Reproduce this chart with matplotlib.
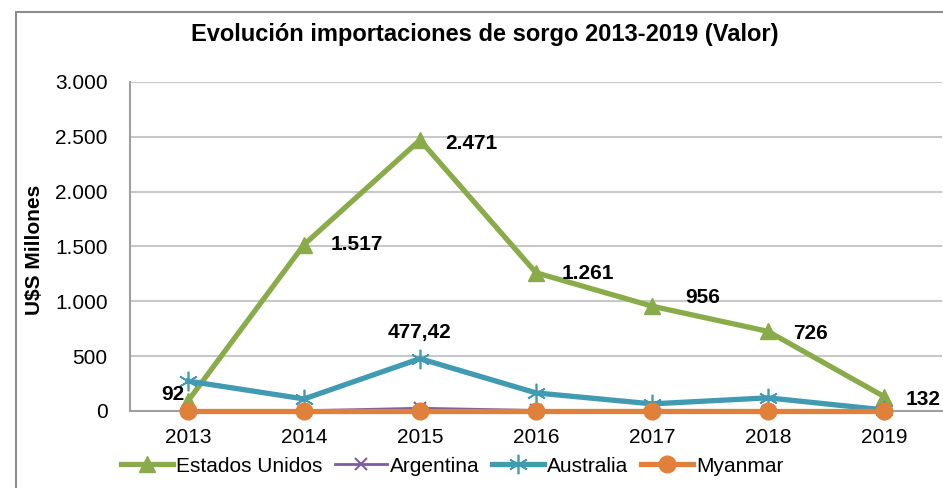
import matplotlib
matplotlib.use("Agg")
import numpy as np
from matplotlib import pyplot as plt
from matplotlib.patches import Rectangle

years = ["2013", "2014", "2015", "2016", "2017", "2018", "2019"]
estados_unidos = [92, 1517, 2471, 1261, 956, 726, 132]
argentina = [0, 2, 25, 5, 3, 4, 2]
australia = [273, 110, 477.42, 165, 65, 120, 10]
myanmar = [0, 0, 0, 0, 0, 0, 0]

eu_labels = ["92", "1.517", "2.471", "1.261", "956", "726", "132"]
au_label = "477,42"

plt.rcParams['font.family'] = ['Liberation Sans Narrow', 'Liberation Sans', 'DejaVu Sans']

fig = plt.figure(figsize=(9.43, 4.88), dpi=100)
fig.patches.append(Rectangle((16 / 943, -0.1), 1.1, (488 - 12) / 488 + 0.1,
                             transform=fig.transFigure, fill=False,
                             edgecolor='#8c8c8c', linewidth=1.5))

ax = fig.add_axes([130 / 943, (488 - 411) / 488, 812 / 943, 329 / 488])
x = np.arange(len(years))

green = '#8aab4a'
purple = '#7a5ea0'
teal = '#3f9ab2'
orange = '#e0803a'

ax.plot(x, estados_unidos, color=green, lw=3.8, marker='^', ms=12,
        label='Estados Unidos', zorder=3, clip_on=False)
ax.plot(x, argentina, color=purple, lw=2, marker='x', ms=9, mew=1.5,
        label='Argentina', zorder=4, clip_on=False)
ax.plot(x, australia, color=teal, lw=3.8, marker=(6, 2, 0), ms=14, mew=1.2,
        label='Australia', zorder=5, clip_on=False)
ax.plot(x, myanmar, color=orange, lw=3.8, marker='o', ms=12,
        label='Myanmar', zorder=6, clip_on=False)

offsets = [(-4, 6, 'right'), (27, 0, 'left'), (25, -3, 'left'), (26, -1, 'left'),
           (33, 9, 'left'), (25, -2, 'left'), (22, -3, 'left')]
for i, (dx, dy, ha) in enumerate(offsets):
    ax.annotate(eu_labels[i], (x[i], estados_unidos[i]), xytext=(dx, dy),
                textcoords='offset pixels', ha=ha, va='center',
                fontsize=15, fontweight='bold', zorder=10)
ax.annotate(au_label, (x[2], australia[2]), xytext=(0, 26),
            textcoords='offset pixels', ha='center', va='center',
            fontsize=15, fontweight='bold', zorder=10)

ax.set_xlim(-0.5, 6.5)
ax.set_ylim(0, 3000)
ax.set_yticks(np.arange(0, 3001, 500))
ax.set_yticklabels(['0', '500', '1.000', '1.500', '2.000', '2.500', '3.000'])
ax.set_xticks(x)
ax.set_xticklabels(years)
ax.tick_params(axis='both', length=0, labelsize=15)
ax.tick_params(axis='y', pad=16)
ax.tick_params(axis='x', pad=12)
ax.grid(axis='y', color='#c8c8c8', lw=1.5)
ax.set_axisbelow(True)
for s in ['top', 'right']:
    ax.spines[s].set_visible(False)
for s in ['left', 'bottom']:
    ax.spines[s].set_color('#a0a0a0')
    ax.spines[s].set_linewidth(1.5)

fig.text(35 / 943, 1 - 250 / 488, 'U$S Millones', rotation=90, ha='center',
         va='center', fontsize=15, fontweight='bold')
fig.text(485 / 943, 1 - 35 / 488, 'Evolución importaciones de sorgo 2013-2019 (Valor)',
         ha='center', va='center', fontsize=17, fontweight='bold')

fig.legend(loc='center', bbox_to_anchor=(452 / 943, 1 - 466 / 488), ncol=4,
           frameon=False, fontsize=15, handlelength=2.5, handletextpad=0.15,
           columnspacing=0.6, borderpad=0, borderaxespad=0)

fig.savefig('out.png', dpi=100)
